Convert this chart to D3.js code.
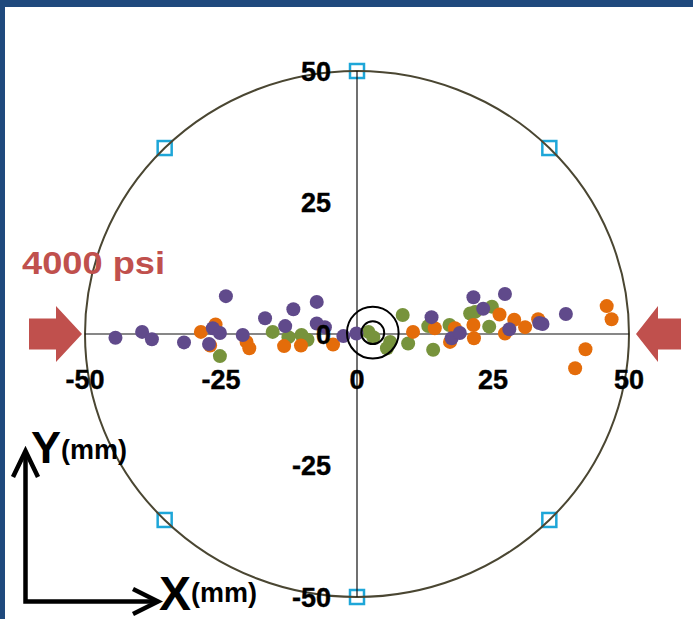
<!DOCTYPE html>
<html>
<head>
<meta charset="utf-8">
<script src="https://cdn.jsdelivr.net/npm/d3@7"></script>
<style>
  html, body { margin: 0; padding: 0; background: #ffffff; }
  svg { display: block; }
  text { font-family: "Liberation Sans", Arial, sans-serif; font-weight: bold; }
</style>
</head>
<body>
<svg id="chart" width="693" height="619"></svg>
<script>
// Measured positions (mm) of the three test groups
const purpleX = [-44.4, -39.5, -37.7, -31.8, -24.1, -26.5, -25.2, -27.2, -21.0, -16.9, -13.2, -11.7, -7.4, -7.4, -5.9, -2.5, -0.1, 13.7, 17.4, 18.9, 21.4, 23.2, 27.2, 28.0, 33.5, 34.1, 38.4];
const purpleY = [-0.7, 0.4, -1.0, -1.6, 7.2, 1.1, 0.2, -1.9, -0.2, 3.0, 1.5, 4.7, 6.1, 2.0, 1.3, -0.4, 0.1, 3.2, -0.8, 0.2, 7.0, 4.8, 7.6, 0.9, 2.1, 1.9, 3.8];

const orangeX = [-28.7, -26.0, -27.0, -20.3, -19.8, -13.4, -10.3, -4.4, 10.3, 14.3, 18.0, 17.1, 21.4, 21.5, 26.2, 28.9, 27.2, 30.9, 33.3, 45.9, 46.8, 42.0, 40.1];
const orangeY = [0.4, 1.8, -2.2, -1.5, -2.7, -2.3, -2.2, -2.0, 0.4, 1.1, 1.1, -1.5, 1.7, -0.8, 3.7, 2.7, 0.1, 1.3, 2.8, 5.3, 2.8, -2.9, -6.5];

const greenX = [-25.2, -15.5, -12.6, -10.2, -9.1, 2.1, 3.0, 6.1, 5.5, 8.4, 9.4, 13.1, 14.0, 17.0, 20.8, 21.7, 24.8, 24.3];
const greenY = [-4.2, 0.4, -0.6, -0.2, -1.1, 0.4, -0.6, -1.5, -2.7, 3.6, -1.8, 1.5, -3.0, 1.7, 3.9, 4.2, 5.2, 1.4];

// Axis ticks, rim radius, target and gauge angles
const xTicks = [-50, -25, 0, 25, 50];
const yTicks = [50, 25, 0, -25, -50];
const rimRadius = 50;
const gaugeAngles = [45, 90, 135, 225, 270, 315];
const targetCenter = [2.9, 0.25];
const targetRadii = [4.75, 2.1];
const pressureLabel = "4000 psi";

const svg = d3.select("#chart");

const x = d3.scaleLinear().domain([-50, 50]).range([85, 629]);
const y = d3.scaleLinear().domain([-50, 50]).range([597, 71]);

// frame
svg.append("rect").attr("x", 0).attr("y", 0).attr("width", 693).attr("height", 619).attr("fill", "#ffffff");
svg.append("rect").attr("x", 0).attr("y", 0).attr("width", 693).attr("height", 7).attr("fill", "#1f497d");
svg.append("rect").attr("x", 0).attr("y", 0).attr("width", 5).attr("height", 619).attr("fill", "#1f497d");

// gauge squares on the rim
svg.append("g").selectAll("rect")
  .data(gaugeAngles)
  .join("rect")
  .attr("x", a => x(rimRadius * Math.cos(a * Math.PI / 180)) - 7)
  .attr("y", a => y(rimRadius * Math.sin(a * Math.PI / 180)) - 7)
  .attr("width", 14).attr("height", 14)
  .attr("fill", "#ffffff")
  .attr("stroke", "#1ea6d8")
  .attr("stroke-width", 2.5);

// rim
svg.append("ellipse")
  .attr("cx", x(0)).attr("cy", y(0))
  .attr("rx", x(rimRadius) - x(0))
  .attr("ry", y(-rimRadius) - y(0))
  .attr("fill", "none")
  .attr("stroke", "#4a4632")
  .attr("stroke-width", 2);

// axes through the centre
svg.append("line")
  .attr("x1", x(-50)).attr("x2", x(50)).attr("y1", y(0)).attr("y2", y(0))
  .attr("stroke", "#111").attr("stroke-width", 1.2);
svg.append("line")
  .attr("x1", x(0)).attr("x2", x(0)).attr("y1", y(50)).attr("y2", y(-50))
  .attr("stroke", "#111").attr("stroke-width", 1.2);

// points
const series = [
  { xs: greenX, ys: greenY, color: "#77933c" },
  { xs: orangeX, ys: orangeY, color: "#e46c0a" },
  { xs: purpleX, ys: purpleY, color: "#604a8b" }
];
series.forEach(s => {
  svg.append("g").selectAll("circle")
    .data(s.xs.map((v, i) => [v, s.ys[i]]))
    .join("circle")
    .attr("cx", d => x(d[0]))
    .attr("cy", d => y(d[1]))
    .attr("r", 7)
    .attr("fill", s.color);
});

// target rings
svg.append("g").selectAll("circle")
  .data(targetRadii)
  .join("circle")
  .attr("cx", x(targetCenter[0]))
  .attr("cy", y(targetCenter[1]))
  .attr("r", r => x(r) - x(0))
  .attr("fill", "none")
  .attr("stroke", "#000")
  .attr("stroke-width", 2);

// tick labels
svg.append("g").selectAll("text")
  .data(yTicks)
  .join("text")
  .attr("x", 331)
  .attr("y", d => y(d))
  .attr("dy", "0.36em")
  .attr("text-anchor", "end")
  .attr("font-size", 27)
  .attr("fill", "#000")
  .attr("stroke", "#000").attr("stroke-width", 0.4)
  .text(d => d);

svg.append("g").selectAll("text")
  .data(xTicks)
  .join("text")
  .attr("x", d => x(d))
  .attr("y", 389)
  .attr("text-anchor", "middle")
  .attr("font-size", 27)
  .attr("fill", "#000")
  .attr("stroke", "#000").attr("stroke-width", 0.4)
  .text(d => d);

// load arrows
const red = "#c0504d";
function loadArrow(tipX, dir, headLen, shaftLen) {
  // dir = +1 points right, -1 points left
  const cy = y(0);
  const headHalf = 28, shaftHalf = 15.5;
  const bx = tipX - dir * headLen;
  const ex = bx - dir * shaftLen;
  const pts = [
    [tipX, cy], [bx, cy - headHalf], [bx, cy - shaftHalf], [ex, cy - shaftHalf],
    [ex, cy + shaftHalf], [bx, cy + shaftHalf], [bx, cy + headHalf]
  ];
  svg.append("path").attr("d", d3.line()(pts) + "Z").attr("fill", red);
}
loadArrow(82, 1, 26, 27);
loadArrow(636, -1, 22, 23);

svg.append("text")
  .attr("x", 22).attr("y", 274)
  .attr("font-size", 32)
  .attr("fill", red)
  .attr("textLength", 143)
  .attr("lengthAdjust", "spacingAndGlyphs")
  .text(pressureLabel);

// coordinate key
const key = svg.append("g").attr("stroke", "#000").attr("stroke-width", 4.5).attr("fill", "none")
  .attr("stroke-linecap", "butt").attr("stroke-linejoin", "miter");
key.append("path").attr("d", "M25.5,452 V601.5 H157");
key.append("path").attr("d", "M13,477 L25.5,451 L38,477");
key.append("path").attr("d", "M133,589 L158,601.5 L133,614");

const yLab = svg.append("text").attr("x", 31).attr("y", 463).attr("fill", "#000");
yLab.append("tspan").attr("font-size", 45).text("Y");
yLab.append("tspan").attr("font-size", 27).attr("dy", -4).text("(mm)");

const xLab = svg.append("text").attr("x", 159).attr("y", 610).attr("fill", "#000");
xLab.append("tspan").attr("font-size", 48).text("X");
xLab.append("tspan").attr("font-size", 27).attr("dy", -8).text("(mm)");
</script>
</body>
</html>
